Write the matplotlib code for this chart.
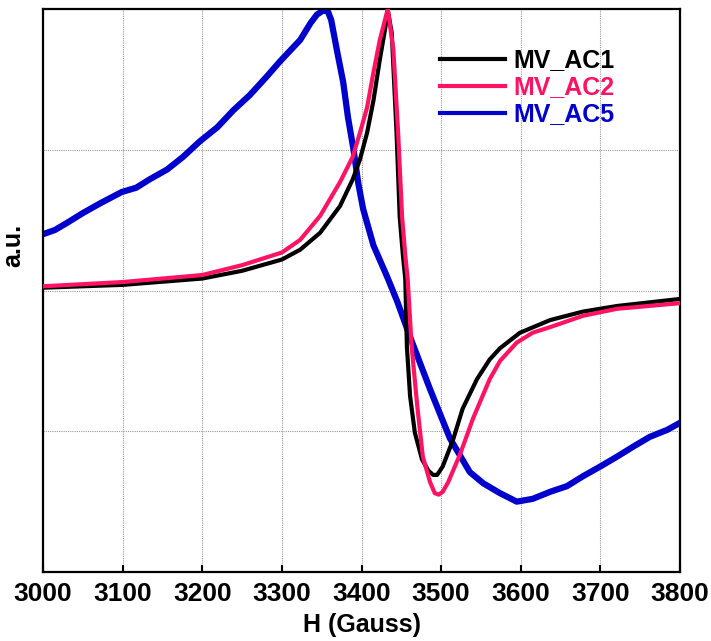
import matplotlib.pyplot as plt

plt.rcParams['font.family'] = ['Liberation Sans', 'DejaVu Sans']

# MV_AC1 (preto)
h_ac1 = [3000, 3100, 3200, 3250, 3300, 3323, 3348, 3373, 3389, 3398, 3407, 3415,
         3423, 3430, 3433, 3438, 3444, 3448, 3452, 3455, 3457, 3461, 3467, 3476,
         3484, 3490, 3495, 3502, 3515, 3527, 3545, 3561, 3574, 3599, 3637, 3678, 3721, 3800]
y_ac1 = [0.02, 0.04, 0.085, 0.14, 0.22, 0.29, 0.41, 0.60, 0.79, 0.93, 1.12, 1.35,
         1.64, 1.87, 1.99, 1.83, 1.12, 0.52, 0.25, 0.08, -0.40, -0.75, -1.01, -1.20,
         -1.28, -1.31, -1.31, -1.25, -1.06, -0.84, -0.63, -0.49, -0.41, -0.30, -0.21, -0.15, -0.11, -0.06]

# MV_AC2 (rosa)
h_ac2 = [3000, 3100, 3200, 3250, 3300, 3323, 3348, 3373, 3389, 3398, 3407, 3415,
         3423, 3433, 3440, 3446, 3451, 3455, 3458, 3463, 3470, 3477, 3486, 3492, 3497,
         3502, 3509, 3524, 3540, 3561, 3574, 3595, 3615, 3637, 3678, 3721, 3800]
y_ac2 = [0.03, 0.06, 0.11, 0.18, 0.27, 0.36, 0.53, 0.77, 0.95, 1.12, 1.30, 1.55,
         1.78, 2.0, 1.71, 1.12, 0.52, 0.25, 0.08, -0.40, -0.82, -1.18, -1.36, -1.44, -1.45,
         -1.43, -1.36, -1.16, -0.91, -0.63, -0.50, -0.37, -0.30, -0.26, -0.18, -0.13, -0.09]

# MV_AC5 (azul)
h_ac5 = [3000, 3015, 3030, 3050, 3072, 3099, 3117, 3134, 3156, 3176, 3197, 3219,
         3239, 3260, 3281, 3298, 3313, 3323, 3336, 3344, 3352, 3358, 3362, 3369,
         3377, 3383, 3390, 3396, 3402, 3415, 3432, 3445, 3461, 3486, 3511, 3536,
         3553, 3574, 3595, 3615, 3637, 3658, 3678, 3700, 3721, 3741, 3762, 3784, 3800]
y_ac5 = [0.40, 0.43, 0.48, 0.55, 0.62, 0.70, 0.73, 0.79, 0.86, 0.95, 1.06, 1.16,
         1.28, 1.39, 1.52, 1.63, 1.72, 1.78, 1.90, 1.96, 1.99, 1.98, 1.92, 1.71,
         1.48, 1.23, 1.00, 0.76, 0.58, 0.32, 0.10, -0.08, -0.33, -0.70, -1.05, -1.29,
         -1.37, -1.44, -1.50, -1.48, -1.43, -1.39, -1.32, -1.25, -1.18, -1.11, -1.04, -0.99, -0.94]

fig = plt.figure(figsize=(7.11, 6.41), dpi=100)
ax = fig.add_axes([0.0605, 0.1076, 0.8959, 0.8784])

ax.plot(h_ac1, y_ac1, color="black", lw=3, label="MV_AC1", zorder=3)
ax.plot(h_ac2, y_ac2, color="#ff1464", lw=3, label="MV_AC2", zorder=3)
ax.plot(h_ac5, y_ac5, color="#0000cc", lw=4.5, label="MV_AC5", zorder=2)

ax.set_xlim(3000, 3800)
ax.set_ylim(-2, 2)
ax.set_xticks(range(3000, 3801, 100))
ax.set_yticks([-1, 0, 1])
ax.set_yticklabels([])
ax.grid(True, color="#999999", linestyle=(0, (1, 1)), linewidth=0.8)
ax.tick_params(axis="x", direction="in", length=5, width=1.5, labelsize=19, pad=7)
ax.tick_params(axis="y", length=0)
for lbl in ax.get_xticklabels():
    lbl.set_fontweight("bold")
for s in ax.spines.values():
    s.set_linewidth(1.6)

ax.set_xlabel("H (Gauss)", fontsize=18, fontweight="bold", labelpad=5)
ax.set_ylabel("a.u.", fontsize=18, fontweight="bold")
ax.yaxis.set_label_coords(-0.028, 0.58)

leg = ax.legend(loc="upper left", bbox_to_anchor=(0.623, 0.93), frameon=False,
                prop={"size": 18, "weight": "bold"}, handlelength=2.6,
                handletextpad=0.35, labelspacing=0.12, borderpad=0, borderaxespad=0)
for txt, ln in zip(leg.get_texts(), leg.get_lines()):
    txt.set_color(ln.get_color())
    ln.set_linewidth(3)

fig.savefig("out.png", dpi=100)
